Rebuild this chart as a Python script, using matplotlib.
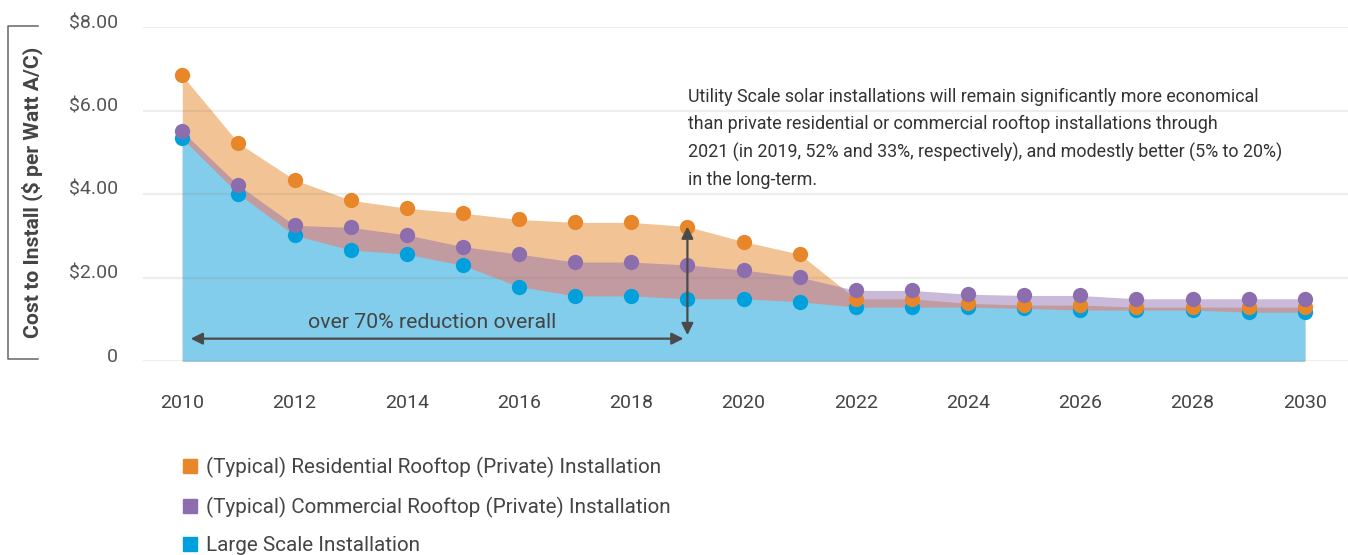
"""
Installed cost of solar PV per watt, 2010-2030, for residential rooftop,
commercial rooftop and utility (large) scale installations.
"""

import matplotlib
matplotlib.use("Agg")
import matplotlib.pyplot as plt
import matplotlib.transforms as mtransforms
from matplotlib.lines import Line2D
from matplotlib.patches import Patch


YEARS = list(range(2010, 2031))

RESIDENTIAL = [6.84, 5.22, 4.34, 3.85, 3.66, 3.54, 3.39, 3.32, 3.32, 3.22, 2.86,
               2.56, 1.49, 1.49, 1.38, 1.34, 1.34, 1.29, 1.29, 1.29, 1.29]
COMMERCIAL = [5.50, 4.21, 3.25, 3.20, 3.02, 2.74, 2.56, 2.37, 2.37, 2.30, 2.18,
              2.01, 1.69, 1.69, 1.60, 1.57, 1.57, 1.49, 1.49, 1.49, 1.49]
LARGE_SCALE = [5.33, 4.00, 3.01, 2.66, 2.56, 2.29, 1.78, 1.56, 1.56, 1.49, 1.49,
               1.42, 1.29, 1.29, 1.29, 1.26, 1.22, 1.22, 1.22, 1.17, 1.17]

SERIES_LABELS = [
    "(Typical) Residential Rooftop (Private) Installation",
    "(Typical) Commercial Rooftop (Private) Installation",
    "Large Scale Installation",
]

Y_TICKS = [0, 2, 4, 6, 8]
Y_TICK_LABELS = ["0", "$2.00", "$4.00", "$6.00", "$8.00"]
X_TICKS = list(range(2010, 2031, 2))

NOTE_TEXT = (
    "Utility Scale solar installations will remain significantly more economical\n"
    "than private residential or commercial rooftop installations through\n"
    "2021 (in 2019, 52% and 33%, respectively), and modestly better (5% to 20%)\n"
    "in the long-term."
)
REDUCTION_TEXT = "over 70% reduction overall"
REDUCTION_START, REDUCTION_END = 2010, 2019

ORANGE = "#E8872A"
PURPLE = "#8C6EAE"
BLUE = "#00A0DC"
ORANGE_FILL = "#F2C394"
BLUE_FILL = "#82CDEB"
ARROW_GREY = "#4A4A4A"

plt.rcParams["font.family"] = ["Roboto", "DejaVu Sans"]

W, H = 1348, 555
fig = plt.figure(figsize=(W / 100, H / 100), dpi=100)
ax = fig.add_axes([143 / W, 1 - 361 / H, 1 - 143 / W, (361 - 27) / H])

# stacked area bands: orange underneath, purple translucent, blue on top
ax.fill_between(YEARS, 0, RESIDENTIAL, color=ORANGE_FILL, lw=0, zorder=1)
ax.fill_between(YEARS, 0, COMMERCIAL, color=PURPLE, alpha=0.47, lw=0, zorder=2)
ax.fill_between(YEARS, 0, LARGE_SCALE, color=BLUE_FILL, lw=0, zorder=3)

for y in Y_TICKS:
    ax.axhline(y, color="#808080", alpha=0.14, lw=1.6, zorder=4)

ax.plot(YEARS, LARGE_SCALE, "o", color=BLUE, ms=11, mew=0, zorder=6)
ax.plot(YEARS, RESIDENTIAL, "o", color=ORANGE, ms=11, mew=0, zorder=7)
ax.plot(YEARS, COMMERCIAL, "o", color=PURPLE, ms=11, mew=0, zorder=8)

ax.set_xlim(2009.30, 2030.77)
ax.set_ylim(0, 8)
for spine in ax.spines.values():
    spine.set_visible(False)

ax.set_xticks(X_TICKS)
ax.set_xticklabels([str(x) for x in X_TICKS])
ax.set_yticks(Y_TICKS)
ax.set_yticklabels(Y_TICK_LABELS)
ax.tick_params(axis="x", length=0, pad=24, labelsize=14, labelcolor="#444444")
ax.tick_params(axis="y", length=0, pad=18, labelsize=14, labelcolor="#555555")
lift = mtransforms.ScaledTranslation(0, 6 / 100, fig.dpi_scale_trans)
for lbl in ax.get_yticklabels():
    lbl.set_transform(lbl.get_transform() + lift)

# reduction arrows
arrow_y = 0.535
head = "<|-|>,head_length=0.7,head_width=0.35"
ax.annotate("", xy=(REDUCTION_START + 0.15, arrow_y), xytext=(REDUCTION_END - 0.07, arrow_y),
            arrowprops=dict(arrowstyle=head, color=ARROW_GREY, lw=1.6, shrinkA=0, shrinkB=0),
            zorder=9)
ax.annotate("", xy=(REDUCTION_END, RESIDENTIAL[YEARS.index(REDUCTION_END)]),
            xytext=(REDUCTION_END, 0.62),
            arrowprops=dict(arrowstyle=head, color=ARROW_GREY, lw=1.6, shrinkA=0, shrinkB=0),
            zorder=9)
ax.text(2014.45, 0.93, REDUCTION_TEXT, ha="center", va="center", fontsize=15.3,
        color="#444444", zorder=9)

fig.text(688 / W, 1 - 88 / H, NOTE_TEXT, ha="left", va="top", fontsize=12.9,
         color="#333333", linespacing=1.65)

# y axis title with bracket
fig.text(32 / W, 1 - 192 / H, "Cost to Install ($ per Watt A/C)", rotation=90,
         ha="center", va="center", fontsize=15.2, fontweight="bold", color="#444444")
bx = [38 / W, 8 / W, 8 / W, 38 / W]
by = [1 - 26 / H, 1 - 26 / H, 1 - 359 / H, 1 - 359 / H]
fig.add_artist(Line2D(bx, by, color="#666666", lw=1.1))

handles = [Patch(color=c) for c in (ORANGE, PURPLE, BLUE)]
fig.legend(handles, SERIES_LABELS, loc="upper left", bbox_to_anchor=(183 / W, 1 - 457 / H),
           frameon=False, fontsize=14.9, handlelength=0.68, handleheight=0.68,
           handletextpad=0.45, labelspacing=0.9, borderpad=0, borderaxespad=0,
           labelcolor="#444444")

fig.savefig("out.png", dpi=100)
